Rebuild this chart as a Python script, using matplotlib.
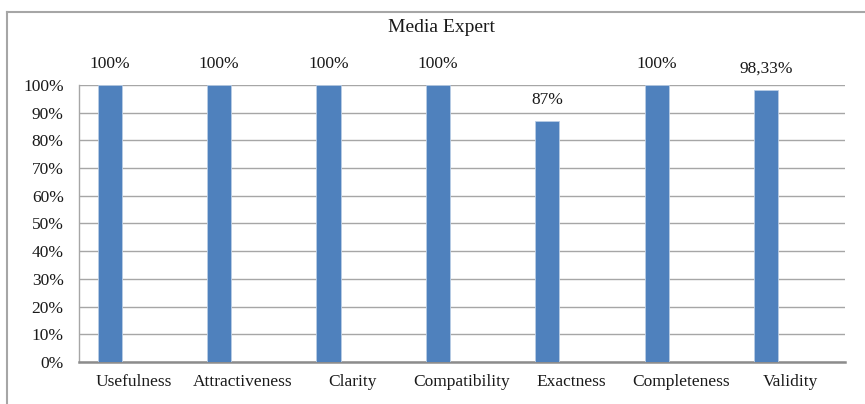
import matplotlib

matplotlib.use("Agg")
import matplotlib.pyplot as plt
from matplotlib.lines import Line2D

# data
categories = ["Usefulness", "Attractiveness", "Clarity", "Compatibility",
              "Exactness", "Completeness", "Validity"]
values = [100, 100, 100, 100, 87, 100, 98.33]
value_labels = ["100%", "100%", "100%", "100%", "87%", "100%", "98,33%"]
y_ticks = list(range(0, 101, 10))

plt.rcParams["font.family"] = ["Liberation Serif", "DejaVu Serif"]

fig = plt.figure(figsize=(8.65, 4.04), dpi=100)
ax = fig.add_axes([0.0913, 0.104, 0.8856, 0.6856])

# Excel-style cluster: the bar sits one bar-width left of the category centre
bar_w = 0.22
xs = [i - bar_w for i in range(len(categories))]
ax.bar(xs, values, width=bar_w, color="#4F81BD", edgecolor="#B9CDE5",
       linewidth=0.6, zorder=3)

for x, v, lab in zip(xs, values, value_labels):
    ax.annotate(lab, (x, v), xytext=(0, 15), textcoords="offset points",
                ha="center", va="center", fontsize=12.5, color="#1a1a1a")

ax.set_xlim(-0.5, len(categories) - 0.5)
ax.set_ylim(0, 100)
ax.set_yticks(y_ticks)
ax.set_yticklabels([f"{t}%" for t in y_ticks])
ax.set_xticks(range(len(categories)))
ax.set_xticklabels(categories)
ax.tick_params(axis="both", length=0, labelsize=12.5, colors="#1a1a1a")
ax.tick_params(axis="y", pad=11)
ax.tick_params(axis="x", pad=9)

ax.yaxis.grid(True, color="#A6A6A6", linewidth=1.0, zorder=0)
ax.set_axisbelow(True)
for side in ("top", "right"):
    ax.spines[side].set_visible(False)
ax.spines["left"].set_color("#A6A6A6")
ax.spines["left"].set_linewidth(1.0)
ax.spines["bottom"].set_color("#8C8C8C")
ax.spines["bottom"].set_linewidth(1.8)

# chart-area frame (only top and left edges are visible in the crop)
fx, fy = 7.5 / 865, 1 - 12 / 404
fig.add_artist(Line2D([fx, 1.0], [fy, fy], transform=fig.transFigure,
                      color="#A6A6A6", linewidth=1.5))
fig.add_artist(Line2D([fx, fx], [fy, 0.0], transform=fig.transFigure,
                      color="#A6A6A6", linewidth=1.5))

fig.text(442 / 865, 1 - 28 / 404, "Media Expert", ha="center", va="center",
         fontsize=14, color="#1a1a1a")

fig.savefig("out.png", dpi=100)
